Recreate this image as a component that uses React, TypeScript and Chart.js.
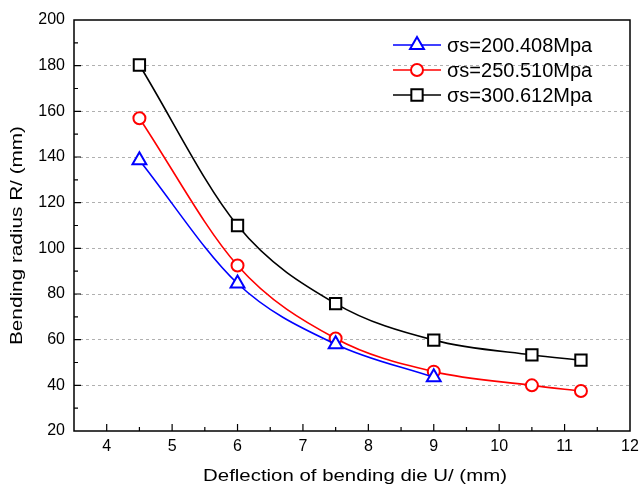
import React, { useEffect, useRef } from "react";
import { Chart, registerables } from "chart.js";

Chart.register(...registerables);

const xBlue = [4.5, 6, 7.5, 9];
const yBlue = [138.6, 84.6, 58, 43.5];
const xRed = [4.5, 6, 7.5, 9, 10.5, 11.25];
const yRed = [157, 92.5, 60.5, 46, 40, 37.5];
const xBlack = [4.5, 6, 7.5, 9, 10.5, 11.25];
const yBlack = [180.3, 110, 75.8, 59.8, 53.3, 51];
const seriesLabels = ["σs=200.408Mpa", "σs=250.510Mpa", "σs=300.612Mpa"];
const xTickValues = [4, 5, 6, 7, 8, 9, 10, 11, 12];
const yTickValues = [20, 40, 60, 80, 100, 120, 140, 160, 180, 200];
const xTitle = "Deflection of bending die U/ (mm)";
const yTitle = "Bending radius R/ (mm)";

const FONT = "Arial, 'Liberation Sans', sans-serif";

function drawMarker(ctx: CanvasRenderingContext2D, style: string, x: number, y: number, r: number, color: string) {
  ctx.save();
  ctx.strokeStyle = color;
  ctx.fillStyle = "#fff";
  ctx.lineWidth = 2;
  ctx.beginPath();
  if (style === "triangle") {
    let rad = 0;
    ctx.moveTo(x + Math.sin(rad) * r, y - Math.cos(rad) * r);
    rad += (2 * Math.PI) / 3;
    ctx.lineTo(x + Math.sin(rad) * r, y - Math.cos(rad) * r);
    rad += (2 * Math.PI) / 3;
    ctx.lineTo(x + Math.sin(rad) * r, y - Math.cos(rad) * r);
    ctx.closePath();
  } else if (style === "circle") {
    ctx.arc(x, y, r, 0, Math.PI * 2);
  } else {
    const s = r * Math.SQRT1_2;
    ctx.rect(x - s, y - s, 2 * s, 2 * s);
  }
  ctx.fill();
  ctx.stroke();
  ctx.restore();
}

const framePlugin = {
  id: "frame",
  afterDatasetsDraw(chart: any) {
    const ctx = chart.ctx as CanvasRenderingContext2D;
    const { left, right, top, bottom } = chart.chartArea;
    const xs = chart.scales.x;
    const ys = chart.scales.y;
    ctx.save();
    ctx.strokeStyle = "#000";
    ctx.lineWidth = 1.5;
    ctx.strokeRect(left, top, right - left, bottom - top);
    ctx.lineWidth = 1.2;
    ctx.beginPath();
    for (let v = 4; v <= 11.5; v += 0.5) {
      const px = xs.getPixelForValue(v);
      const len = Number.isInteger(v) ? 7 : 4;
      ctx.moveTo(px, bottom);
      ctx.lineTo(px, bottom - len);
    }
    for (let v = 30; v < 200; v += 10) {
      const py = ys.getPixelForValue(v);
      const len = v % 20 === 0 ? 7 : 4;
      ctx.moveTo(left, py);
      ctx.lineTo(left + len, py);
    }
    ctx.stroke();
    ctx.restore();
  },
  afterDraw(chart: any) {
    const ctx = chart.ctx as CanvasRenderingContext2D;
    const { left, right, top, bottom } = chart.chartArea;
    ctx.save();
    ctx.fillStyle = "#000";
    ctx.font = `17px ${FONT}`;
    ctx.textAlign = "center";
    ctx.textBaseline = "middle";
    ctx.translate((left + right) / 2 + 3, 476);
    ctx.scale(1.2, 1);
    ctx.fillText(xTitle, 0, 0);
    ctx.restore();
    ctx.save();
    ctx.fillStyle = "#000";
    ctx.font = `17px ${FONT}`;
    ctx.textAlign = "center";
    ctx.textBaseline = "middle";
    ctx.translate(17, (top + bottom) / 2 + 10);
    ctx.rotate(-Math.PI / 2);
    ctx.scale(1.22, 1);
    ctx.fillText(yTitle, 0, 0);
    ctx.restore();
    const rows = [45, 70, 95];
    chart.data.datasets.forEach((ds: any, i: number) => {
      const y = rows[i];
      ctx.save();
      ctx.strokeStyle = ds.borderColor;
      ctx.lineWidth = 1.6;
      ctx.beginPath();
      ctx.moveTo(393, y);
      ctx.lineTo(441, y);
      ctx.stroke();
      ctx.restore();
      drawMarker(ctx, ds.pointStyle, 417, y, ds.pointRadius, ds.borderColor);
      ctx.save();
      ctx.fillStyle = "#000";
      ctx.font = `20px ${FONT}`;
      ctx.textBaseline = "middle";
      ctx.textAlign = "left";
      ctx.fillText(ds.label, 447, y + 1);
      ctx.restore();
    });
  },
};

export default function App() {
  const ref = useRef<HTMLCanvasElement>(null);
  useEffect(() => {
    document.body.style.margin = "0";
    if (!ref.current) return;
    const mk = (xv: number[], yv: number[]) => xv.map((x, i) => ({ x, y: yv[i] }));
    const chart = new Chart(ref.current, {
      type: "line",
      data: {
        datasets: [
          {
            label: seriesLabels[0],
            data: mk(xBlue, yBlue),
            borderColor: "#0000ff",
            pointStyle: "triangle",
            pointRadius: 8,
          },
          {
            label: seriesLabels[1],
            data: mk(xRed, yRed),
            borderColor: "#ff0000",
            pointStyle: "circle",
            pointRadius: 6,
          },
          {
            label: seriesLabels[2],
            data: mk(xBlack, yBlack),
            borderColor: "#000000",
            pointStyle: "rect",
            pointRadius: 8,
          },
        ].map((d) => ({
          ...d,
          borderWidth: 1.6,
          pointBorderColor: d.borderColor,
          pointBackgroundColor: "#ffffff",
          pointBorderWidth: 2,
          pointHoverRadius: d.pointRadius,
          cubicInterpolationMode: "monotone" as const,
          fill: false,
        })),
      },
      options: {
        animation: false,
        responsive: false,
        devicePixelRatio: 1,
        layout: { padding: { top: 20, right: 8, left: 0, bottom: 0 } },
        plugins: { legend: { display: false }, tooltip: { enabled: false } },
        scales: {
          x: {
            type: "linear",
            min: 3.5,
            max: 12,
            afterBuildTicks: (s: any) => {
              s.ticks = xTickValues.map((v) => ({ value: v }));
            },
            afterFit: (s: any) => {
              s.height = 59;
              s.paddingRight = 0;
              s.paddingLeft = 0;
            },
            grid: { display: false, drawTicks: false },
            border: { display: false },
            ticks: {
              color: "#000",
              font: { family: FONT, size: 16 },
              padding: 6,
              maxRotation: 0,
              autoSkip: false,
            },
          },
          y: {
            type: "linear",
            min: 20,
            max: 200,
            afterBuildTicks: (s: any) => {
              s.ticks = yTickValues.map((v) => ({ value: v }));
            },
            afterFit: (s: any) => {
              s.width = 74;
            },
            grid: {
              drawTicks: false,
              color: (c: any) => (c.tick && (c.tick.value === 20 || c.tick.value === 200) ? "rgba(0,0,0,0)" : "#b0b0b0"),
              lineWidth: 1,
            },
            border: { display: false, dash: [3, 3] },
            ticks: {
              color: "#000",
              font: { family: FONT, size: 16 },
              padding: 9,
              autoSkip: false,
            },
          },
        },
      },
      plugins: [framePlugin],
    });
    return () => chart.destroy();
  }, []);
  return <canvas ref={ref} width={640} height={490} style={{ display: "block" }} />;
}
